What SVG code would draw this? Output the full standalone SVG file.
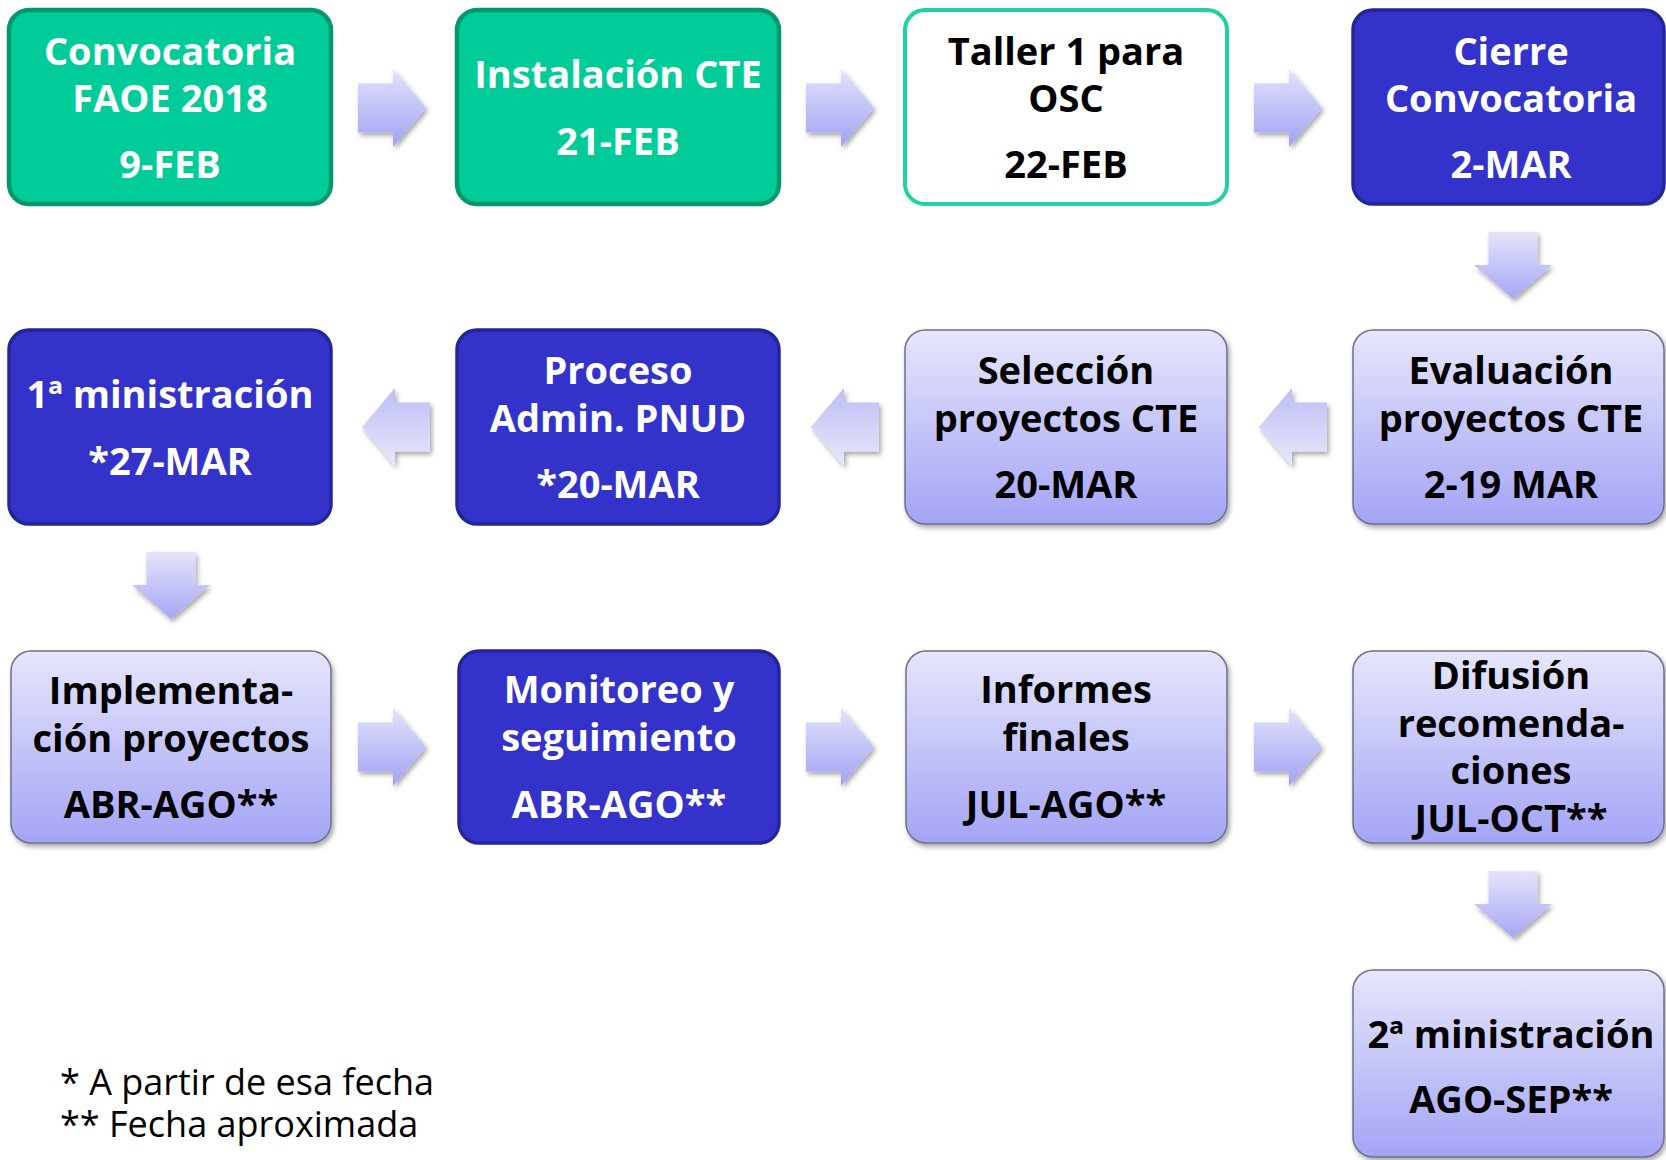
<svg xmlns="http://www.w3.org/2000/svg" width="1666" height="1160" viewBox="0 0 1666 1160">
<defs>
  <linearGradient id="gLav" x1="0" y1="0" x2="0" y2="1">
    <stop offset="0" stop-color="#E6E6FC"/>
    <stop offset="1" stop-color="#A4A4F6"/>
  </linearGradient>
  <linearGradient id="gArrR" x1="0" y1="0" x2="0" y2="1">
    <stop offset="0" stop-color="#E2E2FB"/>
    <stop offset="1" stop-color="#A2A2F5"/>
  </linearGradient>
  <linearGradient id="gArrL" x1="0" y1="0" x2="0" y2="1">
    <stop offset="0" stop-color="#BDBDF5"/>
    <stop offset="1" stop-color="#E8E8FC"/>
  </linearGradient>
  <linearGradient id="gArrD" x1="0" y1="0" x2="0" y2="1">
    <stop offset="0" stop-color="#E4E4FB"/>
    <stop offset="1" stop-color="#A6A6F5"/>
  </linearGradient>
  <filter id="sh" x="-20%" y="-20%" width="140%" height="140%">
    <feDropShadow dx="2" dy="3" stdDeviation="2.5" flood-color="#000" flood-opacity="0.35"/>
  </filter>
  <path id="arrR" d="M0,-24.5 H35 V-39 L68,0 L35,39 V24.5 H0 Z"/>
  <path id="arrL" d="M0,-24.5 H-35 V-39 L-68,0 L-35,39 V24.5 H0 Z"/>
  <path id="arrD" d="M-24.5,0 H24.5 V33 H39 L0,67 L-39,33 H-24.5 Z"/>
</defs>
<style>
  .t { font-family: "Open Sans", "Noto Sans", "Liberation Sans", sans-serif; font-weight: 700; font-size: 38px; text-anchor: middle; }
  .w { fill: #FFFFFF; }
  .k { fill: #000000; }
  .green { fill: #00CC99; stroke: #00986C; stroke-width: 4.5; }
  .white { fill: #FFFFFF; stroke: #1FD3A0; stroke-width: 4; }
  .blue { fill: #3333CC; stroke: #25259A; stroke-width: 3.5; }
  .lav { fill: url(#gLav); stroke: #6F6F8C; stroke-width: 1.5; filter: url(#sh); }
  .note { font-family: "Open Sans", "Noto Sans", "Liberation Sans", sans-serif; font-size: 36px; fill: #000; }
</style>
<rect width="1666" height="1160" fill="#FFFFFF"/>

<g id="connectors">
  <use href="#arrR" transform="translate(358,108)" fill="url(#gArrR)" filter="url(#sh)"/>
  <use href="#arrR" transform="translate(806,108)" fill="url(#gArrR)" filter="url(#sh)"/>
  <use href="#arrR" transform="translate(1254,108)" fill="url(#gArrR)" filter="url(#sh)"/>
  <use href="#arrD" transform="translate(1513,232)" fill="url(#gArrD)" filter="url(#sh)"/>
  <use href="#arrL" transform="translate(1327,427)" fill="url(#gArrL)" filter="url(#sh)"/>
  <use href="#arrL" transform="translate(879,427)" fill="url(#gArrL)" filter="url(#sh)"/>
  <use href="#arrL" transform="translate(430,427)" fill="url(#gArrL)" filter="url(#sh)"/>
  <use href="#arrD" transform="translate(171,552)" fill="url(#gArrD)" filter="url(#sh)"/>
  <use href="#arrR" transform="translate(358,747)" fill="url(#gArrR)" filter="url(#sh)"/>
  <use href="#arrR" transform="translate(806,747)" fill="url(#gArrR)" filter="url(#sh)"/>
  <use href="#arrR" transform="translate(1254,747)" fill="url(#gArrR)" filter="url(#sh)"/>
  <use href="#arrD" transform="translate(1513,871)" fill="url(#gArrD)" filter="url(#sh)"/>
</g>

<g id="n1">
  <rect class="green" x="9" y="10" width="322" height="194" rx="20"/>
  <text class="t w" x="170" y="65">Convocatoria</text>
  <text class="t w" x="170" y="112">FAOE 2018</text>
  <text class="t w" x="170" y="178">9-FEB</text>
</g>
<g id="n2">
  <rect class="green" x="457" y="10" width="322" height="194" rx="20"/>
  <text class="t w" x="618" y="88">Instalación CTE</text>
  <text class="t w" x="618" y="155">21-FEB</text>
</g>
<g id="n3">
  <rect class="white" x="905" y="10" width="322" height="194" rx="20"/>
  <text class="t k" x="1066" y="65">Taller 1 para</text>
  <text class="t k" x="1066" y="112">OSC</text>
  <text class="t k" x="1066" y="178">22-FEB</text>
</g>
<g id="n4">
  <rect class="blue" x="1353" y="10" width="311" height="194" rx="20"/>
  <text class="t w" x="1511" y="65">Cierre</text>
  <text class="t w" x="1511" y="112">Convocatoria</text>
  <text class="t w" x="1511" y="178">2-MAR</text>
</g>

<g id="n5">
  <rect class="lav" x="1353" y="330" width="311" height="194" rx="20"/>
  <text class="t k" x="1511" y="384">Evaluación</text>
  <text class="t k" x="1511" y="432">proyectos CTE</text>
  <text class="t k" x="1511" y="498">2-19 MAR</text>
</g>
<g id="n6">
  <rect class="lav" x="905" y="330" width="322" height="194" rx="20"/>
  <text class="t k" x="1066" y="384">Selección</text>
  <text class="t k" x="1066" y="432">proyectos CTE</text>
  <text class="t k" x="1066" y="498">20-MAR</text>
</g>
<g id="n7">
  <rect class="blue" x="457" y="330" width="322" height="194" rx="20"/>
  <text class="t w" x="618" y="384">Proceso</text>
  <text class="t w" x="618" y="432">Admin. PNUD</text>
  <text class="t w" x="618" y="498">*20-MAR</text>
</g>
<g id="n8">
  <rect class="blue" x="9" y="330" width="322" height="194" rx="20"/>
  <text class="t w" x="170" y="408">1ª ministración</text>
  <text class="t w" x="170" y="475">*27-MAR</text>
</g>

<g id="n9">
  <rect class="lav" x="11" y="651" width="320" height="192" rx="20"/>
  <text class="t k" x="171" y="704">Implementa-</text>
  <text class="t k" x="171" y="752">ción proyectos</text>
  <text class="t k" x="171" y="818">ABR-AGO**</text>
</g>
<g id="n10">
  <rect class="blue" x="459" y="651" width="320" height="192" rx="20"/>
  <text class="t w" x="619" y="703">Monitoreo y</text>
  <text class="t w" x="619" y="751">seguimiento</text>
  <text class="t w" x="619" y="818">ABR-AGO**</text>
</g>
<g id="n11">
  <rect class="lav" x="906" y="651" width="321" height="192" rx="20"/>
  <text class="t k" x="1066" y="703">Informes</text>
  <text class="t k" x="1066" y="751">finales</text>
  <text class="t k" x="1066" y="818">JUL-AGO**</text>
</g>
<g id="n12">
  <rect class="lav" x="1353" y="651" width="311" height="192" rx="20"/>
  <text class="t k" x="1511" y="689">Difusión</text>
  <text class="t k" x="1511" y="737">recomenda-</text>
  <text class="t k" x="1511" y="784">ciones</text>
  <text class="t k" x="1511" y="832">JUL-OCT**</text>
</g>
<g id="n13">
  <rect class="lav" x="1353" y="970" width="311" height="187" rx="20"/>
  <text class="t k" x="1511" y="1048">2ª ministración</text>
  <text class="t k" x="1511" y="1113">AGO-SEP**</text>
</g>

<g id="notes">
  <text class="note" x="60" y="1095">* A partir de esa fecha</text>
  <text class="note" x="60" y="1137">** Fecha aproximada</text>
</g>
</svg>
